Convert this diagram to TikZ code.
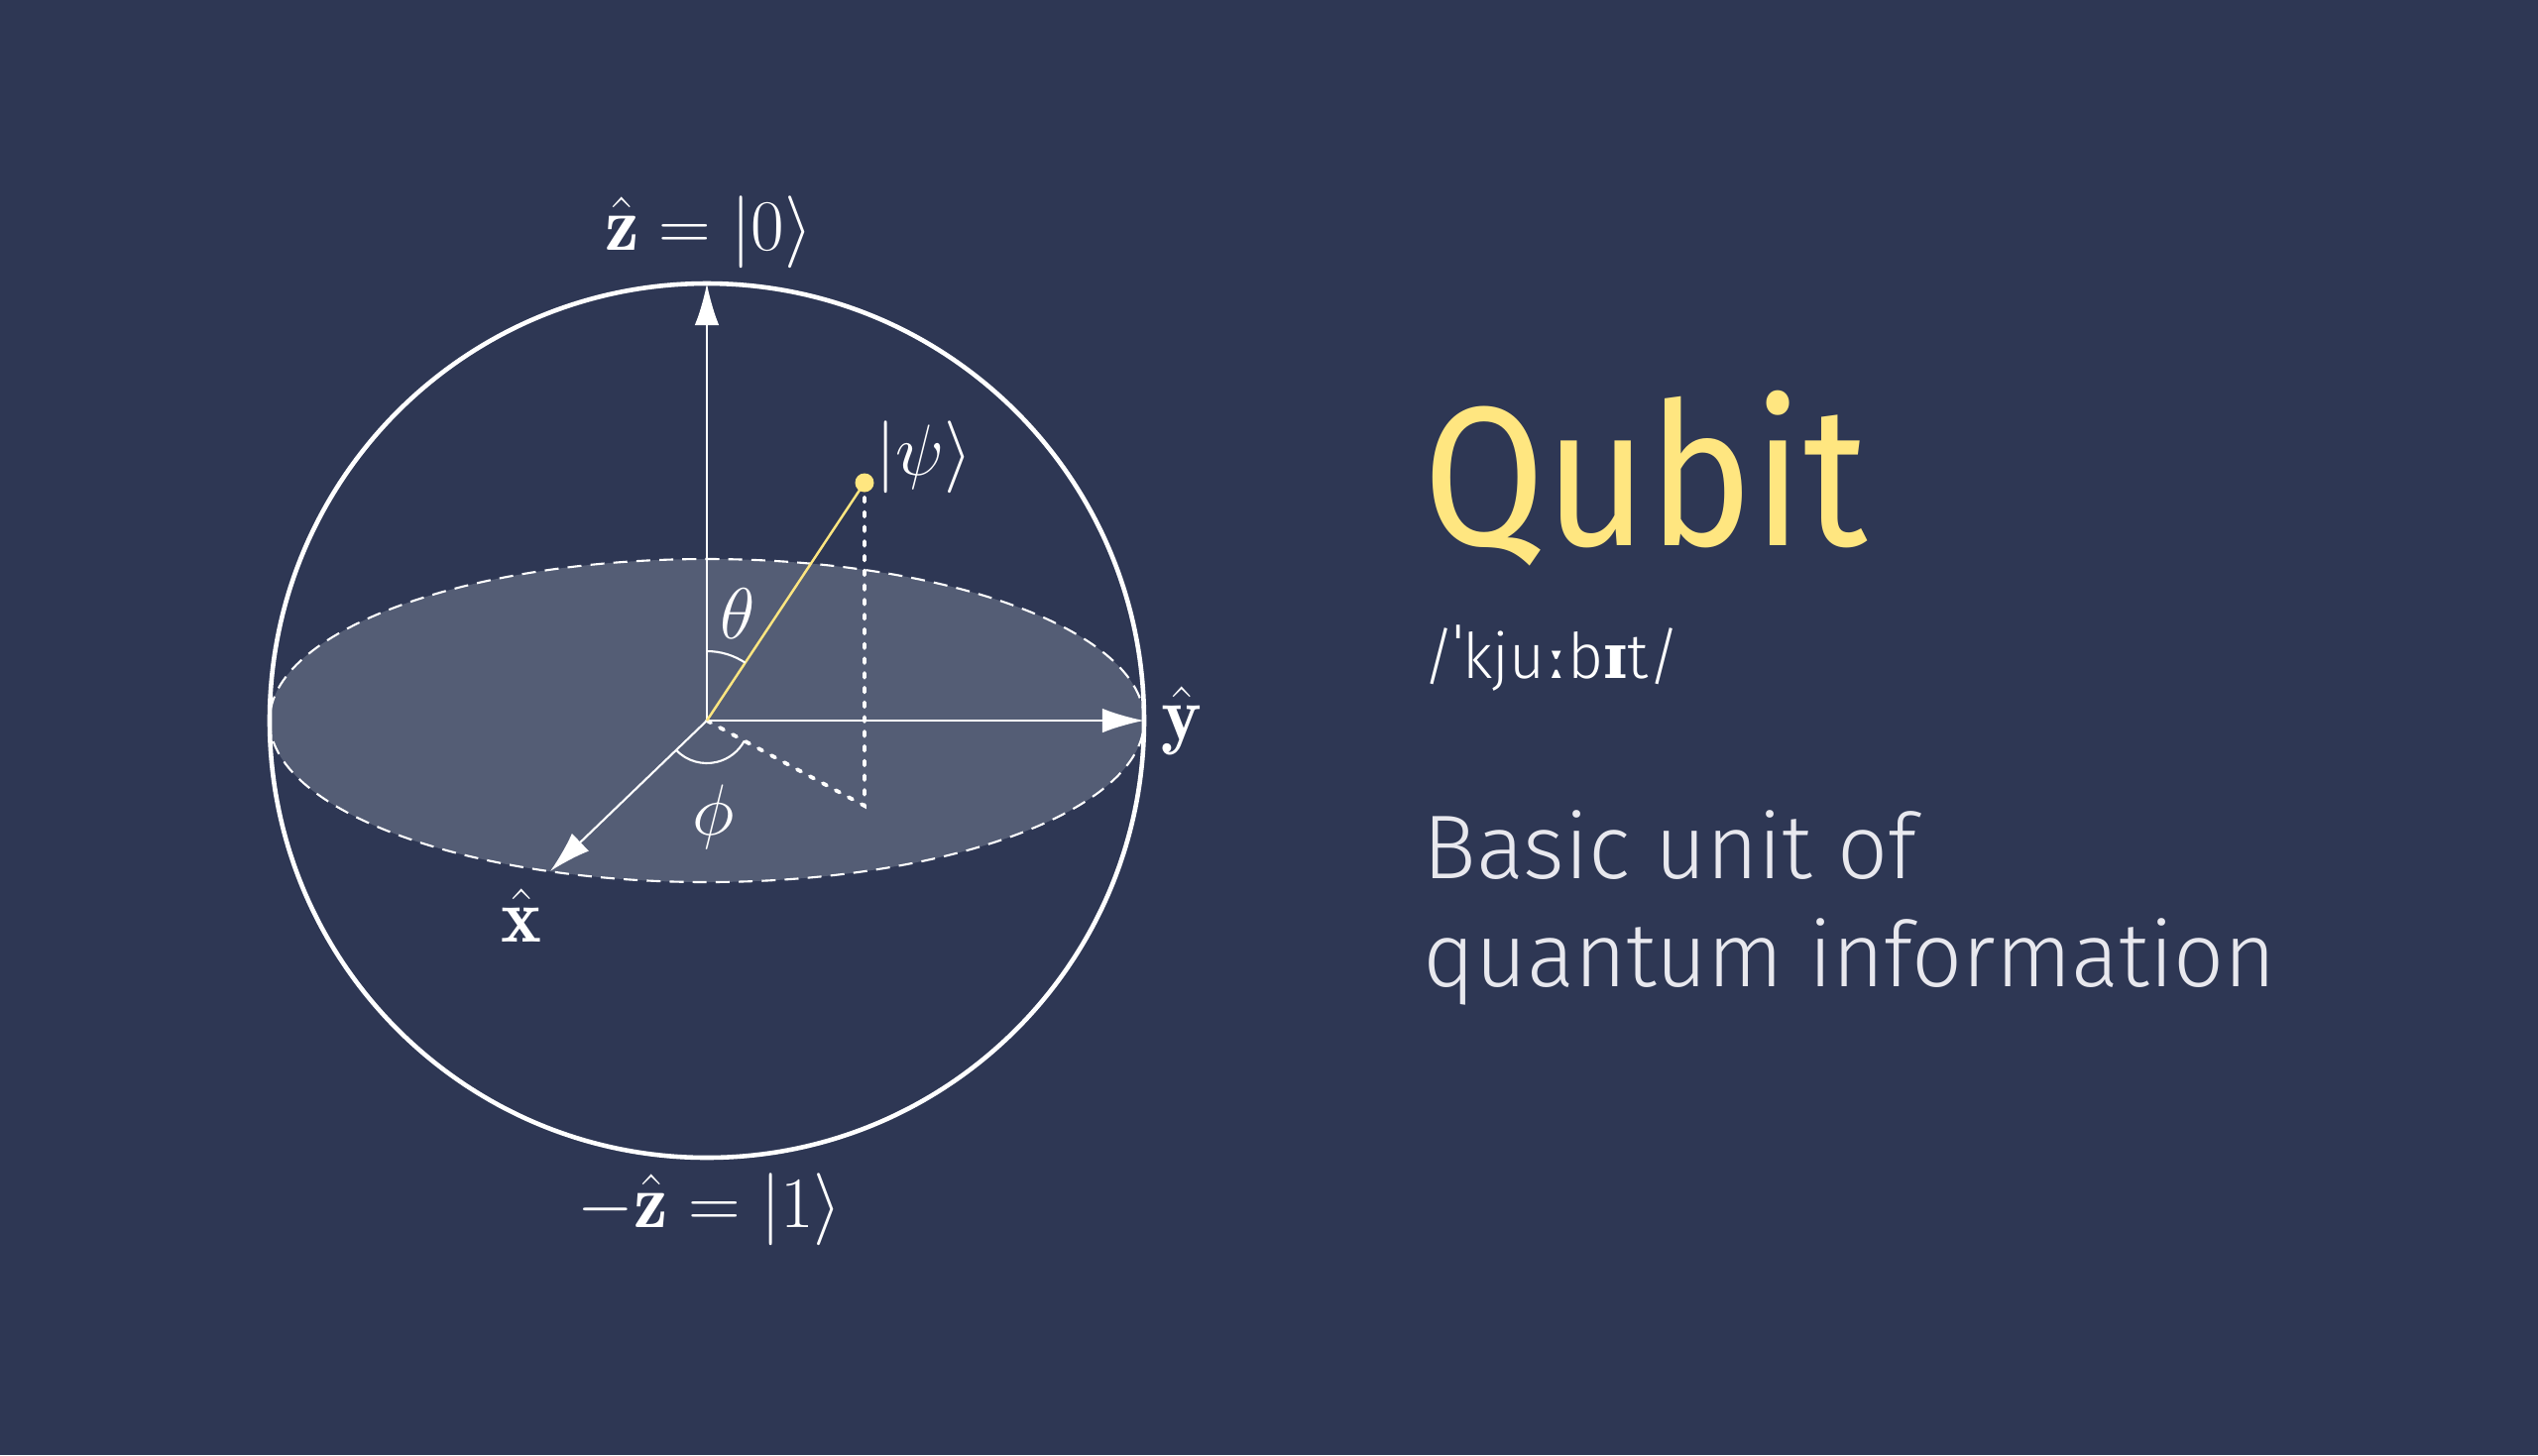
\documentclass[tikz,border=0pt]{standalone}
\usepackage{fontspec}
\usepackage{amsmath}
\usetikzlibrary{arrows.meta}
\newfontfamily\qubitfont{Fira Sans}[FakeStretch=0.89]
\newfontfamily\lightfont{Fira Sans Light}[FakeStretch=0.98]
\newfontfamily\ipafont{DejaVu Serif}
\definecolor{bg}{RGB}{46,55,84}
\definecolor{disc}{RGB}{84,93,117}
\definecolor{qyellow}{RGB}{255,230,128}
\definecolor{pale}{RGB}{232,232,238}
\newcommand\lblfont{\fontsize{22}{26}\selectfont}
\newcommand\ipabold[1]{{\ipafont\bfseries #1}}
\begin{document}
\begin{tikzpicture}[x=0.01cm, y=0.01cm]\tikzstyle{every node}=[text=white, font=\lblfont]
\tikzstyle{axis}=[white, line width=0.6pt, -{Latex[length=12pt, width=7pt]}]
\tikzstyle{guide}=[white, line width=1.1pt, dash pattern=on 1.3pt off 2.9pt, line cap=round]
\tikzstyle{angle}=[white, line width=0.6pt]
% background
  \fill[bg] (-713,727) rectangle (1847,-741);
  \useasboundingbox (-713,727) rectangle (1847,-741);
% equator
  \fill[disc] (0,0) ellipse [x radius=441, y radius=163];
  \draw[white, line width=0.6pt, dash pattern=on 4pt off 2.6pt] (0,0) ellipse [x radius=441, y radius=163];
% sphere
  \draw[white, line width=1.3pt] (0,0) circle [radius=441];
% points
  \coordinate (o) at (0,0);
  \coordinate (ztip) at (0,441);
  \coordinate (ytip) at (441,0);
  \coordinate (xtip) at (-158,-152);
  \coordinate (psi) at (159,240);
  \coordinate (foot) at (159,-86);
% labels
  \node (zlabel) at (2,493) {$\hat{\mathbf{z}} = |0\rangle$};
  \node (mzlabel) at (3,-493) {$-\hat{\mathbf{z}} = |1\rangle$};
  \node (ylabel) at (479,0) {$\hat{\mathbf{y}}$};
  \node (xlabel) at (-187,-197) {$\hat{\mathbf{x}}$};
  \node (psilabel) at (219,266) {$|\psi\rangle$};
  \node (thetalabel) at (31,108) {$\theta$};
  \node (philabel) at (7,-97) {$\phi$};
% text
  \node[anchor=base west, inner sep=0, text=qyellow, font=\qubitfont\fontsize{57}{60}\selectfont] (title) at (722,177) {Qubit};
  \node[anchor=base west, inner sep=0, font=\lightfont\fontsize{18}{21}\selectfont] (ipa) at (722,43) {/ˈkju\ipabold{ː}b\ipabold{ɪ}t/};
  \node[anchor=base west, inner sep=0, text=pale, align=left, font=\lightfont\fontsize{26}{31}\selectfont] (desc) at (722,-268) {Basic unit of\\quantum information};
%%%%%%%%%%%%%%%%
\draw[axis] (o) -- (ztip);
\draw[axis] (o) -- (ytip);
\draw[axis] (o) -- (xtip);
\draw[guide] (psi) -- (foot) -- (o);
\draw[qyellow, line width=0.7pt] (o) -- (psi);
\fill[qyellow] (psi) circle [radius=9.5];
\draw[angle] (0,70) arc [start angle=90, end angle=56.5, radius=70];
\draw[angle] (223.9:43) arc [start angle=223.9, end angle=331.6, radius=43];
\end{tikzpicture}
\end{document}
